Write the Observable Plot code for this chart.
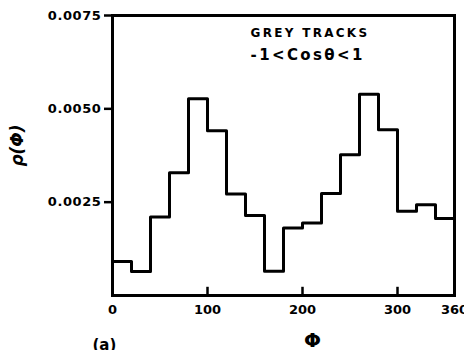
<!DOCTYPE html>
<html>
<head>
<meta charset="utf-8">
<script src="https://cdn.jsdelivr.net/npm/d3@7"></script>
<script src="https://cdn.jsdelivr.net/npm/@observablehq/plot@0.6"></script>
<style>
  html, body { margin: 0; padding: 0; background: #fff; }
  #chart svg { font-family: "DejaVu Sans", sans-serif; font-weight: bold; }
  #chart g[aria-label="y-axis tick label"] { letter-spacing: 0.6px; }
</style>
</head>
<body>
<div id="chart"></div>
<script>
// Bin left edges (degrees) and density values
const binStart = [0, 20, 40, 60, 80, 100, 120, 140, 160, 180, 200, 220, 240, 260, 280, 300, 320, 340];
const density = [0.00091, 0.00064, 0.0021, 0.00329, 0.00527, 0.00441, 0.00272, 0.00214, 0.00065,
                 0.00181, 0.00194, 0.00273, 0.00377, 0.00539, 0.00444, 0.00226, 0.00243, 0.00206];
const binWidth = 20;
const xTicks = [0, 100, 200, 300, 360];
const xInnerTicks = [100, 200, 300];
const yTicks = [0.0025, 0.005, 0.0075];
const title = ["GREY TRACKS", "-1<Cosθ<1"];
const xLabel = "Φ";
const yLabel = "ρ(Φ)";
const panel = "(a)";

const steps = binStart.map((x, i) => ({x, y: density[i]}));
steps.push({x: binStart[binStart.length - 1] + binWidth, y: density[density.length - 1]});

const chart = Plot.plot({
  width: 464,
  height: 350,
  marginLeft: 112,
  marginRight: 10,
  marginTop: 15,
  marginBottom: 55,
  style: {fontFamily: "DejaVu Sans", fontWeight: "bold", fontSize: "12px", color: "#000", background: "#fff", overflow: "hidden"},
  x: {domain: [0, 360]},
  y: {domain: [0, 0.0075]},
  marks: [
    Plot.line(steps, {x: "x", y: "y", curve: "step-after", stroke: "#000", strokeWidth: 3}),
    Plot.frame({stroke: "#000", strokeWidth: 3}),
    Plot.axisY({ticks: yTicks, tickFormat: d => d.toFixed(4), tickSize: 8, tickPadding: 3, strokeWidth: 2.5, label: null, fontSize: 13}),
    Plot.axisX({ticks: xTicks, tickSize: 0, tickPadding: 9, label: null, fontSize: 13}),
    Plot.ruleX(xInnerTicks, {x: d => d, y1: 0, y2: 0.00022, strokeWidth: 2.5}),
    Plot.text([title[0]], {frameAnchor: "top-left", dx: 138, dy: 13, textAnchor: "start", fontSize: 12, fontWeight: "bold"}),
    Plot.text([title[1]], {frameAnchor: "top-left", dx: 138, dy: 34, textAnchor: "start", fontSize: 15, fontWeight: "bold"}),
    Plot.text([xLabel], {frameAnchor: "bottom", dx: 29, dy: 51, fontSize: 20, fontWeight: "bold"}),
    Plot.text([yLabel], {frameAnchor: "left", dx: -95, dy: -10, rotate: -90, textAnchor: "middle", fontSize: 17, fontWeight: "bold", fontStyle: "italic"}),
    Plot.text([panel], {frameAnchor: "bottom-left", dx: -20, dy: 50, textAnchor: "start", lineAnchor: "middle", fontSize: 15, fontWeight: "bold"})
  ]
});
// widen the letter spacing of the two annotation lines, as in the reference
d3.select(chart).selectAll("text")
  .filter(function() { return this.textContent === title[0]; })
  .style("letter-spacing", "2.3px");
d3.select(chart).selectAll("text")
  .filter(function() { return this.textContent === title[1]; })
  .style("letter-spacing", "2.4px");
document.getElementById("chart").appendChild(chart);
</script>
</body>
</html>
